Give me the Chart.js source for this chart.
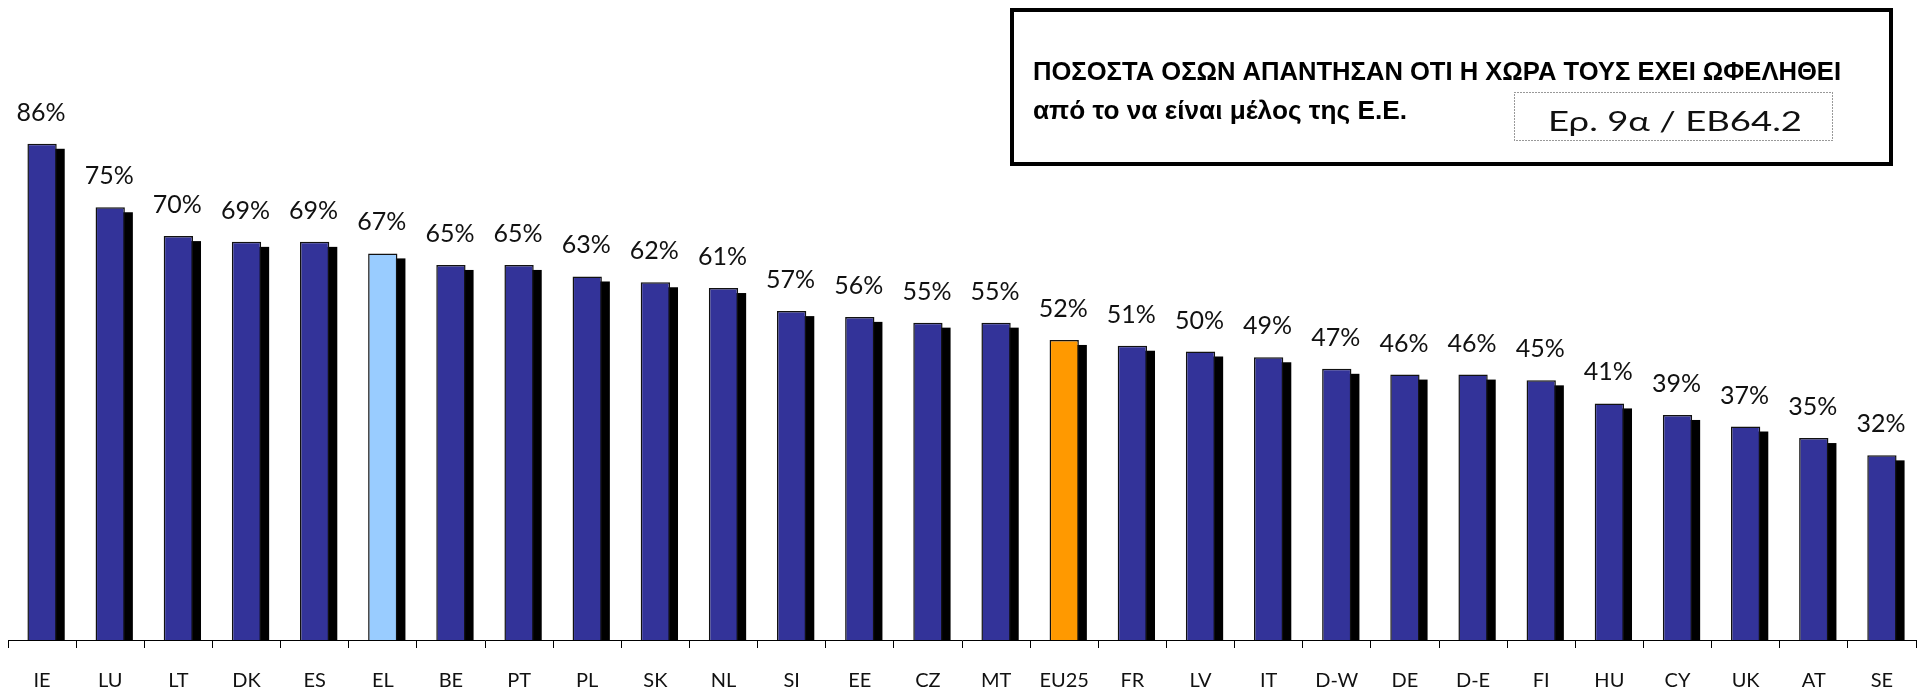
<!DOCTYPE html>
<html>
<head>
<meta charset="utf-8">
<script src="https://cdn.jsdelivr.net/npm/chart.js@4.4.0/dist/chart.umd.min.js"></script>
<style>
  html, body { margin: 0; padding: 0; background: #fff; }
  #wrap { width: 1917px; height: 693px; position: relative; }
</style>
</head>
<body>
<div id="wrap"><canvas id="benefitChart"></canvas></div>
<script>
var countries = ['IE', 'LU', 'LT', 'DK', 'ES', 'EL', 'BE', 'PT', 'PL', 'SK', 'NL', 'SI', 'EE', 'CZ', 'MT',
  'EU25', 'FR', 'LV', 'IT', 'D-W', 'DE', 'D-E', 'FI', 'HU', 'CY', 'UK', 'AT', 'SE'];
var benefited = [86, 75, 70, 69, 69, 67, 65, 65, 63, 62, 61, 57, 56, 55, 55,
  52, 51, 50, 49, 47, 46, 46, 45, 41, 39, 37, 35, 32];
var titleLine1 = 'ΠΟΣΟΣΤΑ ΟΣΩΝ ΑΠΑΝΤΗΣΑΝ ΟΤΙ Η ΧΩΡΑ ΤΟΥΣ ΕΧΕΙ ΩΦΕΛΗΘΕΙ';
var titleLine2 = 'από το να είναι μέλος της Ε.Ε.';
var sourceNote = 'Ερ. 9α / ΕΒ64.2';

function barColor(c) {
  if (c === 'EL') return '#99CCFF';
  if (c === 'EU25') return '#FF9900';
  return '#333399';
}

// fit text horizontally to a given width, keeping its height
function fitText(ctx, text, x, y, width, align) {
  var w = ctx.measureText(text).width;
  var k = width / w;
  ctx.save();
  ctx.textAlign = 'left';
  var startX = align === 'center' ? x - width / 2 : x;
  ctx.translate(startX, y);
  ctx.scale(k, 1);
  ctx.fillText(text, 0, 0);
  ctx.restore();
}

// black drop shadow behind every bar
var shadowPlugin = {
  id: 'barShadow',
  beforeDatasetsDraw: function(chart) {
    var ctx = chart.ctx;
    var meta = chart.getDatasetMeta(0);
    ctx.save();
    ctx.fillStyle = '#000';
    meta.data.forEach(function(bar) {
      var p = bar.getProps(['x', 'y', 'base', 'width'], true);
      ctx.fillRect(p.x - p.width / 2 + 8, p.y + 5, p.width, p.base - p.y - 5);
    });
    ctx.restore();
  }
};

// percentage labels above bars
var labelPlugin = {
  id: 'valueLabels',
  afterDatasetsDraw: function(chart) {
    var ctx = chart.ctx;
    var meta = chart.getDatasetMeta(0);
    ctx.save();
    ctx.font = '25px Lato';
    ctx.fillStyle = '#111';
    ctx.textAlign = 'center';
    ctx.textBaseline = 'alphabetic';
    meta.data.forEach(function(bar, i) {
      ctx.fillText(benefited[i] + '%', bar.x - 1, bar.y - 23);
    });
    ctx.restore();
  }
};

// title box in the upper right
var titlePlugin = {
  id: 'titleBox',
  afterDraw: function(chart) {
    var ctx = chart.ctx;
    ctx.save();
    ctx.fillStyle = '#fff';
    ctx.fillRect(1010, 8, 883, 158);
    ctx.lineWidth = 4;
    ctx.strokeStyle = '#000';
    ctx.strokeRect(1012, 10, 879, 154);

    ctx.fillStyle = '#000';
    ctx.font = 'bold 25px "Liberation Sans"';
    fitText(ctx, titleLine1, 1033, 80, 808, 'left');
    fitText(ctx, titleLine2, 1033, 119, 374, 'left');

    ctx.lineWidth = 1;
    ctx.strokeStyle = '#333';
    ctx.setLineDash([1, 2]);
    ctx.strokeRect(1514.5, 92.5, 318, 48);
    ctx.setLineDash([]);
    ctx.font = '27px Lato';
    ctx.fillStyle = '#111';
    fitText(ctx, sourceNote, 1675, 131, 254, 'center');
    ctx.restore();
  }
};

var ctx = document.getElementById('benefitChart').getContext('2d');
var benefitChart = new Chart(ctx, {
  type: 'bar',
  data: {
    labels: countries,
    datasets: [{
      label: 'Ωφελήθηκε',
      data: benefited,
      backgroundColor: countries.map(barColor),
      borderColor: '#111',
      borderWidth: 1.5,
      borderSkipped: 'bottom',
      barPercentage: 0.43,
      categoryPercentage: 1
    }]
  },
  options: {
    responsive: true,
    maintainAspectRatio: false,
    animation: false,
    layout: {
      padding: { top: 63, left: 8, right: 1, bottom: 0 }
    },
    plugins: {
      legend: { display: false },
      tooltip: { enabled: false }
    },
    scales: {
      x: {
        afterFit: function(scale) { scale.height = 53; },
        grid: {
          display: true,
          drawOnChartArea: false,
          tickLength: 8,
          color: '#000'
        },
        border: { color: '#000', width: 1 },
        ticks: {
          padding: 21,
          color: '#111',
          font: { family: 'Lato', size: 20 },
          maxRotation: 0,
          autoSkip: false
        }
      },
      y: {
        display: false,
        min: 0,
        max: 100
      }
    }
  },
  plugins: [shadowPlugin, labelPlugin, titlePlugin]
});
</script>
</body>
</html>
